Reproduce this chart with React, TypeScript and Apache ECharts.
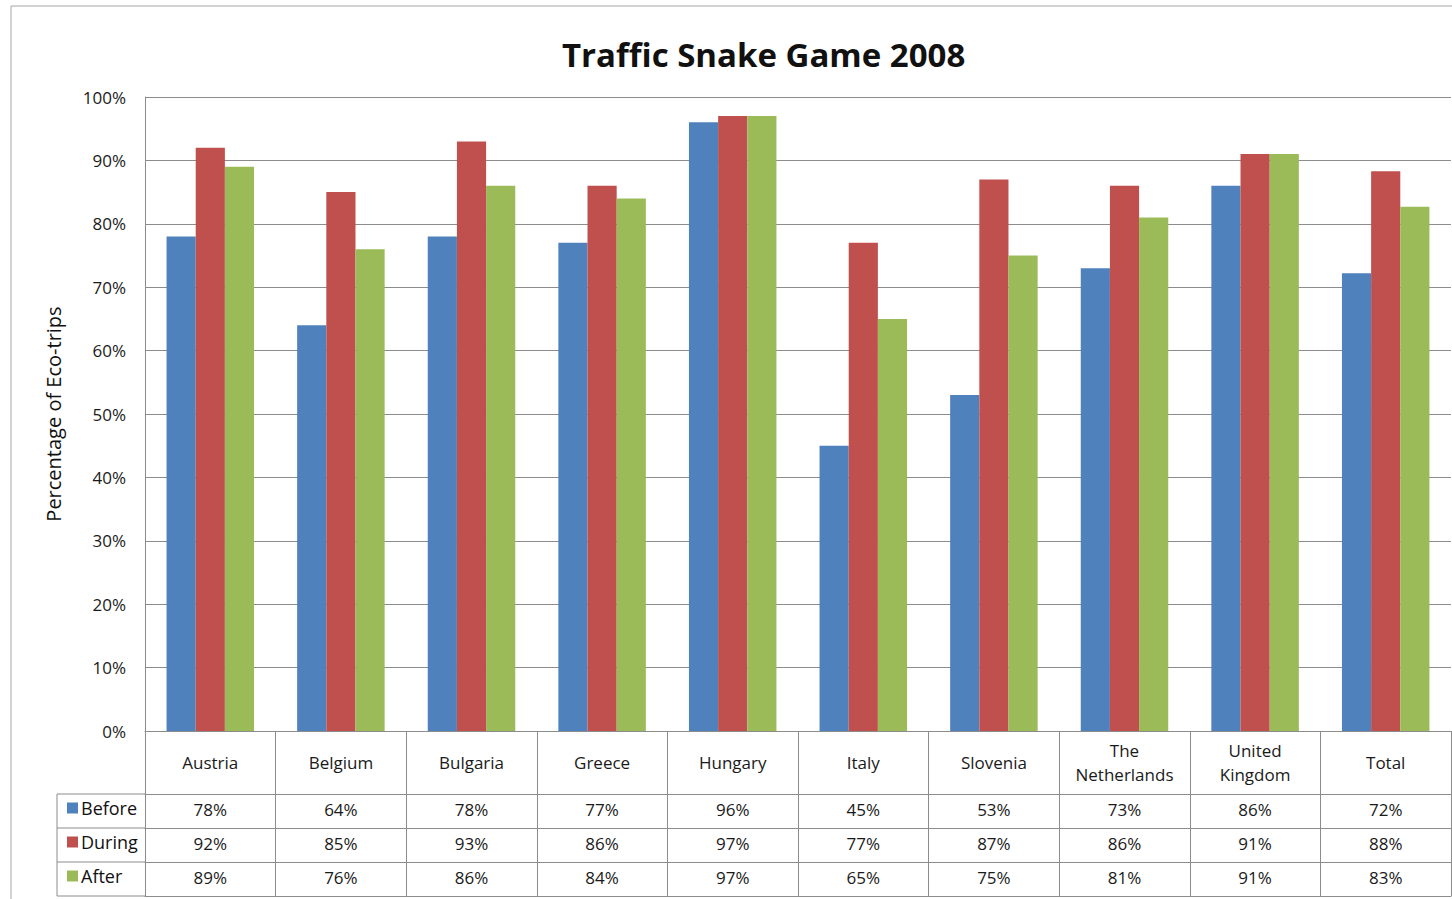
import React, { useEffect, useRef } from "react";
import * as echarts from "echarts";

const categories = ["Austria", "Belgium", "Bulgaria", "Greece", "Hungary", "Italy", "Slovenia", "The\nNetherlands", "United\nKingdom", "Total"];
const seriesNames = ["Before", "During", "After"];
const before = [78, 64, 78, 77, 96, 45, 53, 73, 86, 72.2];
const during = [92, 85, 93, 86, 97, 77, 87, 86, 91, 88.3];
const after = [89, 76, 86, 84, 97, 65, 75, 81, 91, 82.7];
const colors = ["#4F81BD", "#C0504D", "#9BBB59"];
const yTicks = { min: 0, max: 100, interval: 10 };

const FONT = "Open Sans";
const GRID_LEFT = 145;
const GRID_TOP = 97;
const GRID_BOTTOM_Y = 731;
const HEADER_H = 63;
const ROW_H = 34;
const LINE = "#8c8c8c";

export default function App() {
  const ref = useRef<HTMLDivElement>(null);
  useEffect(() => {
    if (!ref.current) return;
    const chart = echarts.init(ref.current, undefined, { renderer: "svg" });
    const rows = [before, during, after];
    const tableAxes = rows.map((vals, r) => ({
      type: "category",
      data: categories,
      position: "bottom",
      offset: HEADER_H + r * ROW_H,
      axisLine: { show: true, lineStyle: { color: LINE, width: 1 } },
      axisTick: { show: true, length: ROW_H, lineStyle: { color: LINE } },
      axisLabel: {
        interval: 0,
        margin: ROW_H / 2 - 2,
        verticalAlign: "middle",
        fontFamily: FONT,
        fontSize: 17,
        color: "#1a1a1a",
        formatter: (_v: string, i: number) => Math.round(vals[i]) + "%",
      },
      splitLine: { show: false },
    }));
    const option: any = {
      animation: false,
      backgroundColor: "#fff",
      title: {
        text: "Traffic Snake Game 2008",
        left: 557,
        top: 33,
        textStyle: { fontFamily: FONT, fontSize: 33, fontWeight: "bold", color: "#111" },
      },
      legend: {
        orient: "vertical",
        left: 62,
        top: 793,
        icon: "rect",
        itemWidth: 11,
        itemHeight: 11,
        itemGap: 14,
        data: seriesNames,
        textStyle: { fontFamily: FONT, fontSize: 18, color: "#111", lineHeight: 20, padding: [0, 0, 0, -2] },
      },
      grid: { left: GRID_LEFT, top: GRID_TOP, right: 1, bottom: 899 - GRID_BOTTOM_Y, containLabel: false },
      xAxis: [
        {
          type: "category",
          data: categories,
          position: "bottom",
          axisLine: { show: true, lineStyle: { color: LINE, width: 1 } },
          axisTick: { show: true, length: HEADER_H, lineStyle: { color: LINE } },
          axisLabel: {
            interval: 0,
            margin: 31,
            verticalAlign: "middle",
            lineHeight: 24,
            fontFamily: FONT,
            fontSize: 17,
            color: "#1a1a1a",
          },
        },
        ...tableAxes,
        {
          type: "category",
          data: categories,
          position: "bottom",
          offset: HEADER_H + 3 * ROW_H,
          axisLine: { show: true, lineStyle: { color: LINE, width: 1 } },
          axisTick: { show: false },
          axisLabel: { show: false },
        },
      ],
      yAxis: {
        type: "value",
        ...yTicks,
        name: "Percentage of Eco-trips",
        nameLocation: "middle",
        nameGap: 82,
        nameTextStyle: { fontFamily: FONT, fontSize: 20, color: "#111" },
        axisLine: { show: true, lineStyle: { color: LINE } },
        axisTick: { show: false },
        axisLabel: { formatter: "{value}%", fontFamily: FONT, fontSize: 17, color: "#1a1a1a", margin: 19 },
        splitLine: { show: true, lineStyle: { color: LINE, width: 1 } },
      },
      series: [before, during, after].map((d, i) => ({
        type: "bar",
        name: seriesNames[i],
        data: d,
        xAxisIndex: 0,
        barGap: "0%",
        barCategoryGap: "33%",
        itemStyle: { color: colors[i] },
      })),
      graphic: [
        { type: "rect", shape: { x: 11, y: 6, width: 1500, height: 1000 }, style: { fill: "none", stroke: "#a6a6a6", lineWidth: 1 }, silent: true, z: -1 },
        { type: "line", shape: { x1: 57, y1: GRID_BOTTOM_Y + HEADER_H, x2: GRID_LEFT, y2: GRID_BOTTOM_Y + HEADER_H }, style: { stroke: LINE, lineWidth: 1 } },
        { type: "line", shape: { x1: 57, y1: GRID_BOTTOM_Y + HEADER_H + ROW_H, x2: GRID_LEFT, y2: GRID_BOTTOM_Y + HEADER_H + ROW_H }, style: { stroke: LINE, lineWidth: 1 } },
        { type: "line", shape: { x1: 57, y1: GRID_BOTTOM_Y + HEADER_H + 2 * ROW_H, x2: GRID_LEFT, y2: GRID_BOTTOM_Y + HEADER_H + 2 * ROW_H }, style: { stroke: LINE, lineWidth: 1 } },
        { type: "line", shape: { x1: 57, y1: GRID_BOTTOM_Y + HEADER_H + 3 * ROW_H, x2: GRID_LEFT, y2: GRID_BOTTOM_Y + HEADER_H + 3 * ROW_H }, style: { stroke: LINE, lineWidth: 1 } },
        { type: "line", shape: { x1: 57, y1: GRID_BOTTOM_Y + HEADER_H, x2: 57, y2: GRID_BOTTOM_Y + HEADER_H + 3 * ROW_H }, style: { stroke: LINE, lineWidth: 1 } },
      ],
    };
    chart.setOption(option);
    return () => chart.dispose();
  }, []);
  return <div ref={ref} style={{ position: "fixed", left: 0, top: 0, width: 1452, height: 899 }} />;
}
